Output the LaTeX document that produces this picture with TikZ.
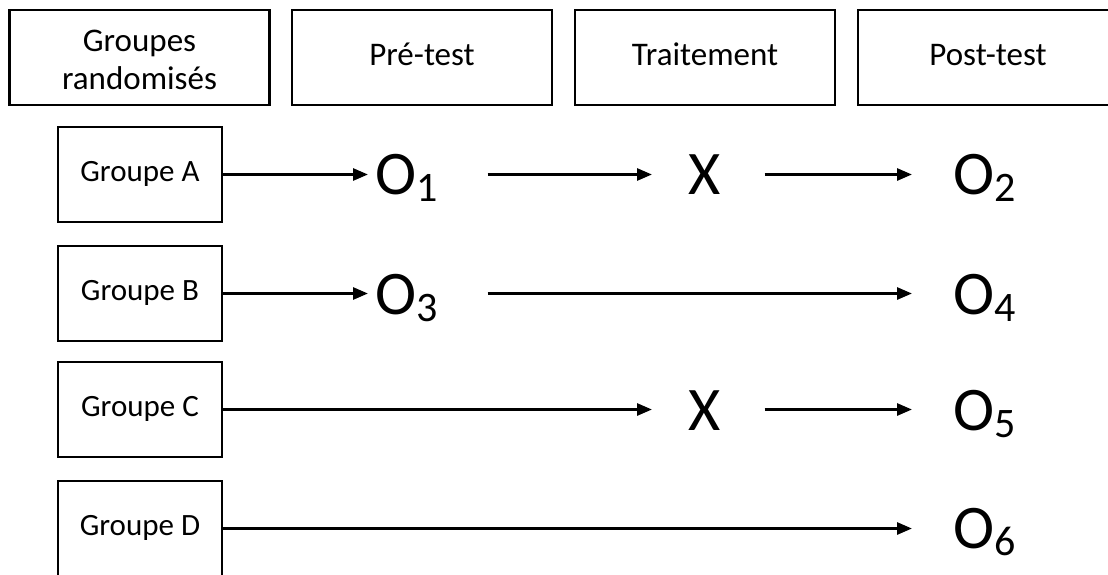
\documentclass[tikz,border=0pt]{standalone}
\usepackage{fontspec}
\setmainfont{Carlito}
\usetikzlibrary{arrows.meta}
\begin{document}
\begin{tikzpicture}[x=1pt,y=-1pt,
  headbox/.style={draw,line width=2.2pt,minimum width=260pt,minimum height=95pt,inner sep=0pt,align=center,font=\fontsize{33}{38}\selectfont},
  headone/.style={headbox,text height=22pt,text depth=7pt},
  headtext/.style={inner sep=0pt,align=center,font=\fontsize{33}{38}\selectfont},
  grpbox/.style={draw,line width=2.2pt,minimum width=164pt,minimum height=95pt,inner sep=0pt,text height=20pt,text depth=6pt,font=\fontsize{31}{36}\selectfont},
  obs/.style={inner sep=0pt,anchor=base west,font=\fontsize{62}{62}\selectfont},
  arr/.style={line width=2.8pt,-{Triangle[length=15pt,width=12pt]}}]
\useasboundingbox (0,0) rectangle (1108,574);
\newcommand{\Osub}[1]{O\raisebox{-7pt}{\fontsize{42}{42}\selectfont #1}}
% headers
\node[headbox] (h1) at (139.5,57.5) {};
\node[headtext] (h1t) at (139.5,59.5) {Groupes\\randomisés};
\node[headone] (h2) at (422,57.5) {Pré-test};
\node[headone] (h3) at (705,57.5) {Traitement};
\node[headone] (h4) at (988,57.5) {Post-test};
% group boxes
\node[grpbox] (ga) at (140,174.5) {Groupe A};
\node[grpbox] (gb) at (140,293.5) {Groupe B};
\node[grpbox] (gc) at (140,409.5) {Groupe C};
\node[grpbox] (gd) at (140,528.5) {Groupe D};
% row A
\node[obs] (o1) at (375,194) {\Osub{1}};
\node[obs] (xa) at (688,194) {X};
\node[obs] (o2) at (953,194) {\Osub{2}};
% row B
\node[obs] (o3) at (375,314) {\Osub{3}};
\node[obs] (o4) at (953,314) {\Osub{4}};
% row C
\node[obs] (xc) at (688,430) {X};
\node[obs] (o5) at (953,430) {\Osub{5}};
% row D
\node[obs] (o6) at (953,548) {\Osub{6}};
% arrows
\draw[arr,shorten >=7pt] (ga.east) -- (ga.east -| o1.west);
\draw[arr,shorten <=50pt,shorten >=36pt] (o1.east |- ga.east) -- (xa.west |- ga.east);
\draw[arr,shorten <=44pt,shorten >=41pt] (xa.east |- ga.east) -- (o2.west |- ga.east);
\draw[arr,shorten >=7pt] (gb.east) -- (gb.east -| o3.west);
\draw[arr,shorten <=50pt,shorten >=41pt] (o3.east |- gb.east) -- (o4.west |- gb.east);
\draw[arr,shorten >=36pt] (gc.east) -- (gc.east -| xc.west);
\draw[arr,shorten <=44pt,shorten >=41pt] (xc.east |- gc.east) -- (o5.west |- gc.east);
\draw[arr,shorten >=41pt] (gd.east) -- (gd.east -| o6.west);
\end{tikzpicture}
\end{document}
